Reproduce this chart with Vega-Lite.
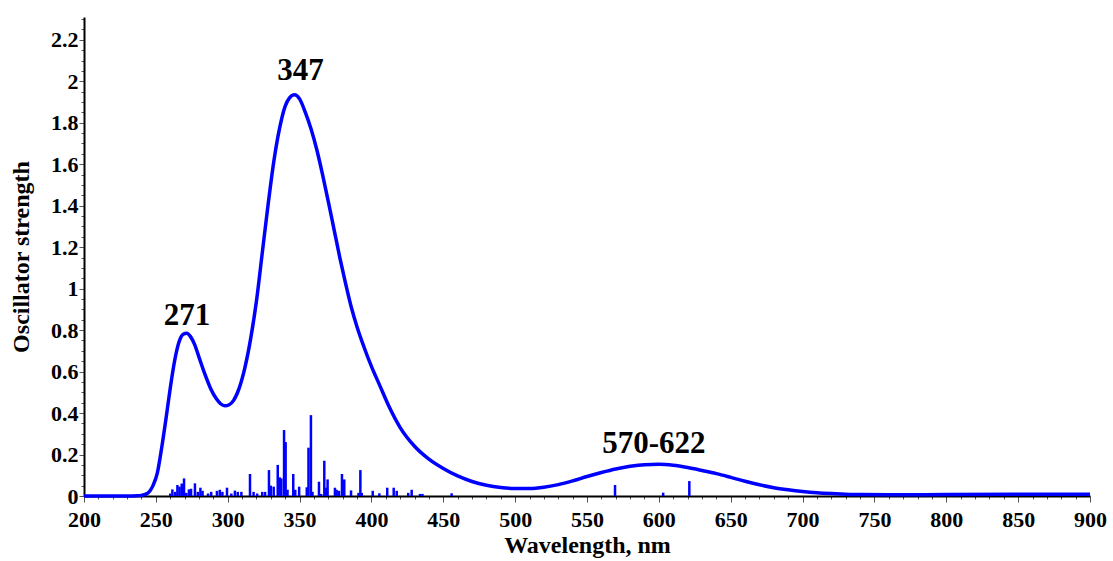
{
  "$schema": "https://vega.github.io/schema/vega-lite/v6.json",
  "width": 1006,
  "height": 479,
  "autosize": {"type": "none"},
  "padding": {"left": 84, "top": 17, "right": 23, "bottom": 65},
  "background": "white",
  "config": {
    "view": {"stroke": null},
    "font": "Liberation Serif",
    "axis": {
      "labelFont": "Liberation Serif",
      "labelFontWeight": "bold",
      "labelFontSize": 22,
      "labelColor": "black",
      "labelFlush": false,
      "labelBound": false,
      "titleFont": "Liberation Serif",
      "titleFontWeight": "bold",
      "titleFontSize": 24,
      "titleColor": "black",
      "domainColor": "black",
      "domainWidth": 2,
      "tickColor": "#555555",
      "tickWidth": 1,
      "grid": false,
      "labelOverlap": false
    }
  },
  "datasets": {
    "curve": [
      {"wl": 200, "f": 0}, {"wl": 230, "f": 0}, {"wl": 237, "f": 0.001}, {"wl": 240, "f": 0.003},
      {"wl": 244, "f": 0.012}, {"wl": 248, "f": 0.05}, {"wl": 251, "f": 0.11}, {"wl": 254, "f": 0.23},
      {"wl": 257, "f": 0.37}, {"wl": 260, "f": 0.52}, {"wl": 263, "f": 0.65}, {"wl": 266, "f": 0.74},
      {"wl": 269, "f": 0.78}, {"wl": 271.5, "f": 0.785}, {"wl": 274, "f": 0.77}, {"wl": 277, "f": 0.73},
      {"wl": 280, "f": 0.67}, {"wl": 284, "f": 0.59}, {"wl": 288, "f": 0.52}, {"wl": 292, "f": 0.47},
      {"wl": 295, "f": 0.445}, {"wl": 298, "f": 0.435}, {"wl": 301, "f": 0.44}, {"wl": 304, "f": 0.46},
      {"wl": 308, "f": 0.52}, {"wl": 312, "f": 0.62}, {"wl": 316, "f": 0.76}, {"wl": 320, "f": 0.94},
      {"wl": 324, "f": 1.17}, {"wl": 328, "f": 1.4}, {"wl": 332, "f": 1.61}, {"wl": 336, "f": 1.77},
      {"wl": 340, "f": 1.88}, {"wl": 343, "f": 1.92}, {"wl": 346.5, "f": 1.935}, {"wl": 350, "f": 1.915},
      {"wl": 354, "f": 1.85}, {"wl": 358, "f": 1.77}, {"wl": 362, "f": 1.67}, {"wl": 366, "f": 1.55},
      {"wl": 370, "f": 1.42}, {"wl": 374, "f": 1.285}, {"wl": 378, "f": 1.15}, {"wl": 382, "f": 1.025},
      {"wl": 386, "f": 0.91}, {"wl": 390, "f": 0.815}, {"wl": 395, "f": 0.715}, {"wl": 400, "f": 0.625},
      {"wl": 406, "f": 0.53}, {"wl": 412, "f": 0.435}, {"wl": 420, "f": 0.33}, {"wl": 430, "f": 0.24},
      {"wl": 440, "f": 0.178}, {"wl": 450, "f": 0.133}, {"wl": 460, "f": 0.097}, {"wl": 470, "f": 0.07},
      {"wl": 480, "f": 0.052}, {"wl": 490, "f": 0.041}, {"wl": 500, "f": 0.036}, {"wl": 510, "f": 0.036},
      {"wl": 520, "f": 0.042}, {"wl": 530, "f": 0.055}, {"wl": 540, "f": 0.073}, {"wl": 550, "f": 0.094},
      {"wl": 560, "f": 0.113}, {"wl": 570, "f": 0.13}, {"wl": 580, "f": 0.143}, {"wl": 590, "f": 0.151},
      {"wl": 600, "f": 0.153}, {"wl": 610, "f": 0.148}, {"wl": 620, "f": 0.137}, {"wl": 630, "f": 0.123},
      {"wl": 640, "f": 0.108}, {"wl": 650, "f": 0.09}, {"wl": 660, "f": 0.071}, {"wl": 670, "f": 0.054},
      {"wl": 680, "f": 0.04}, {"wl": 690, "f": 0.03}, {"wl": 700, "f": 0.022}, {"wl": 710, "f": 0.016},
      {"wl": 720, "f": 0.012}, {"wl": 730, "f": 0.009}, {"wl": 740, "f": 0.007}, {"wl": 760, "f": 0.006},
      {"wl": 800, "f": 0.007}, {"wl": 850, "f": 0.008}, {"wl": 900, "f": 0.008}
    ],
    "sticks": [
      {"wl": 260, "f": 0.012}, {"wl": 261.5, "f": 0.032}, {"wl": 263.5, "f": 0.02}, {"wl": 265, "f": 0.053},
      {"wl": 266.5, "f": 0.045}, {"wl": 268, "f": 0.06}, {"wl": 269.6, "f": 0.085}, {"wl": 271.2, "f": 0.015},
      {"wl": 273, "f": 0.032}, {"wl": 274.5, "f": 0.035}, {"wl": 277.2, "f": 0.061}, {"wl": 279.2, "f": 0.02},
      {"wl": 281, "f": 0.04}, {"wl": 282.5, "f": 0.025}, {"wl": 286.3, "f": 0.012}, {"wl": 288.5, "f": 0.02},
      {"wl": 292.5, "f": 0.025}, {"wl": 294.5, "f": 0.03}, {"wl": 296.3, "f": 0.02}, {"wl": 299.5, "f": 0.04},
      {"wl": 302.5, "f": 0.012}, {"wl": 305, "f": 0.026}, {"wl": 307, "f": 0.02}, {"wl": 309.5, "f": 0.02},
      {"wl": 315.5, "f": 0.106}, {"wl": 318, "f": 0.02}, {"wl": 320.5, "f": 0.012}, {"wl": 324, "f": 0.02},
      {"wl": 326, "f": 0.02}, {"wl": 328.7, "f": 0.125}, {"wl": 330, "f": 0.05}, {"wl": 332, "f": 0.045},
      {"wl": 334.8, "f": 0.15}, {"wl": 336.2, "f": 0.09}, {"wl": 337.3, "f": 0.085}, {"wl": 339.2, "f": 0.318},
      {"wl": 340.3, "f": 0.26}, {"wl": 341.6, "f": 0.03}, {"wl": 345.6, "f": 0.106}, {"wl": 347, "f": 0.03},
      {"wl": 349.7, "f": 0.045}, {"wl": 355, "f": 0.042}, {"wl": 356.2, "f": 0.233}, {"wl": 357.9, "f": 0.39},
      {"wl": 359, "f": 0.02}, {"wl": 363.5, "f": 0.069}, {"wl": 365, "f": 0.01}, {"wl": 367.2, "f": 0.17},
      {"wl": 368.3, "f": 0.04}, {"wl": 369.5, "f": 0.08}, {"wl": 374.6, "f": 0.04}, {"wl": 375.8, "f": 0.03},
      {"wl": 377.4, "f": 0.025}, {"wl": 379.5, "f": 0.106}, {"wl": 381.1, "f": 0.08}, {"wl": 385.8, "f": 0.027},
      {"wl": 391, "f": 0.015}, {"wl": 392.3, "f": 0.125}, {"wl": 393.3, "f": 0.015}, {"wl": 400.9, "f": 0.025},
      {"wl": 405.5, "f": 0.013}, {"wl": 411, "f": 0.04}, {"wl": 415.5, "f": 0.04}, {"wl": 417.6, "f": 0.025},
      {"wl": 425.6, "f": 0.015}, {"wl": 428, "f": 0.03}, {"wl": 433.8, "f": 0.01}, {"wl": 435.5, "f": 0.01},
      {"wl": 455.8, "f": 0.013}, {"wl": 569.5, "f": 0.053}, {"wl": 603, "f": 0.016}, {"wl": 621.2, "f": 0.072}
    ],
    "labels": [
      {"wl": 350.6, "f": 2.007, "label": "347"},
      {"wl": 271.7, "f": 0.825, "label": "271"},
      {"wl": 596.5, "f": 0.206, "label": "570-622"}
    ]
  },
  "encoding": {
    "x": {
      "field": "wl", "type": "quantitative",
      "scale": {"domain": [200, 900], "nice": false, "zero": false},
      "axis": {
        "title": "Wavelength, nm",
        "values": [200,210,220,230,240,250,260,270,280,290,300,310,320,330,340,350,360,370,380,390,400,410,420,430,440,450,460,470,480,490,500,510,520,530,540,550,560,570,580,590,600,610,620,630,640,650,660,670,680,690,700,710,720,730,740,750,760,770,780,790,800,810,820,830,840,850,860,870,880,890,900],
        "labelExpr": "datum.value % 50 === 0 ? datum.label : ''",
        "tickSize": {"condition": {"test": "datum.value % 50 === 0", "value": 6}, "value": 3},
        "labelPadding": 7,
        "titlePadding": 3
      }
    },
    "y": {
      "field": "f", "type": "quantitative",
      "scale": {"domain": [0, 2.31], "nice": false},
      "axis": {
        "title": "Oscillator strength",
        "values": [0,0.05,0.1,0.15,0.2,0.25,0.3,0.35,0.4,0.45,0.5,0.55,0.6,0.65,0.7,0.75,0.8,0.85,0.9,0.95,1,1.05,1.1,1.15,1.2,1.25,1.3,1.35,1.4,1.45,1.5,1.55,1.6,1.65,1.7,1.75,1.8,1.85,1.9,1.95,2,2.05,2.1,2.15,2.2,2.25,2.3],
        "labelExpr": "abs(datum.value*5 - round(datum.value*5)) < 0.001 ? format(datum.value, '.1~f') : ''",
        "tickSize": {"condition": {"test": "abs(datum.value*5 - round(datum.value*5)) < 0.001", "value": 5}, "value": 3},
        "labelPadding": 1,
        "titlePadding": 17
      }
    }
  },
  "layer": [
    {
      "data": {"name": "sticks"},
      "mark": {"type": "rule", "color": "#0000ff", "strokeWidth": 2.5},
      "encoding": {"y2": {"datum": 0}}
    },
    {
      "data": {"name": "curve"},
      "mark": {"type": "line", "color": "#0000ff", "strokeWidth": 3.5, "interpolate": "monotone"},
      "encoding": {}
    },
    {
      "data": {"name": "labels"},
      "mark": {"type": "text", "font": "Liberation Serif", "fontWeight": "bold", "fontSize": 31, "align": "center", "baseline": "alphabetic", "color": "black"},
      "encoding": {"text": {"field": "label"}}
    }
  ]
}
